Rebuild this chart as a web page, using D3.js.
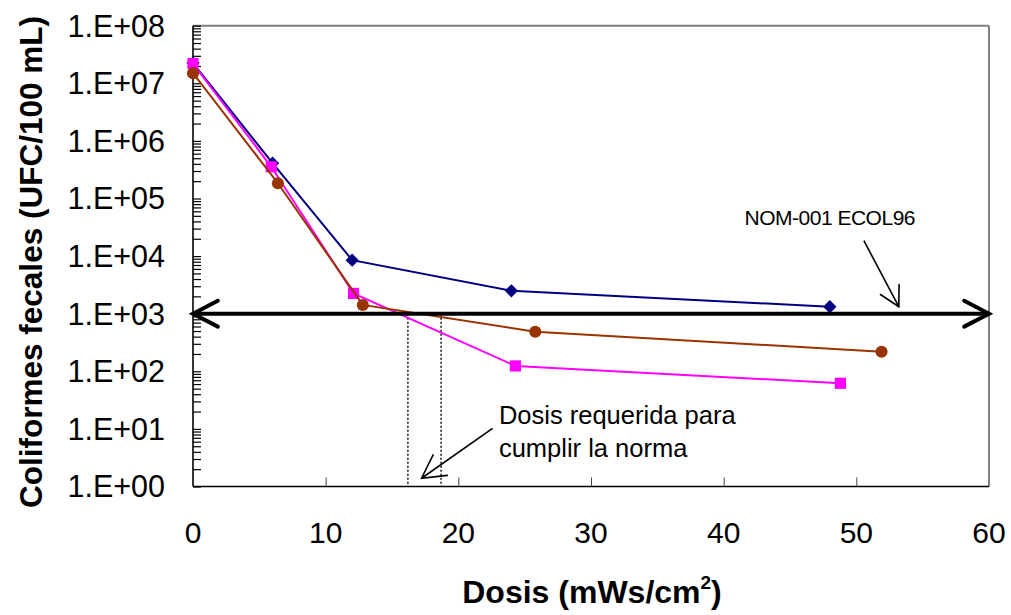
<!DOCTYPE html>
<html>
<head>
<meta charset="utf-8">
<script src="https://cdn.jsdelivr.net/npm/d3@7"></script>
<style>
  html, body { margin: 0; padding: 0; background: #fff; }
  svg { display: block; font-family: "Liberation Sans", Arial, sans-serif; }
</style>
</head>
<body>
<svg id="chart" width="1011" height="615"></svg>
<script>
// Dose (mWs/cm2) and fecal coliform counts (UFC/100 mL) for three runs
const doseA = [0, 6, 12, 24, 48];
const countA = [2.25e7, 4.1e5, 8.5e3, 2.5e3, 1.32e3];

const doseB = [0, 5.9, 12.1, 24.3, 48.8];
const countB = [2.2e7, 3.55e5, 2.25e3, 124, 62];

const doseC = [0, 6.4, 12.8, 25.8, 51.9];
const countC = [1.5e7, 1.84e5, 1.42e3, 486, 219];

// Axis ticks
const xTicks = [0, 10, 20, 30, 40, 50, 60];
const yTickValues = [1e0, 1e1, 1e2, 1e3, 1e4, 1e5, 1e6, 1e7, 1e8];
const yTickLabels = ["1.E+00", "1.E+01", "1.E+02", "1.E+03", "1.E+04", "1.E+05", "1.E+06", "1.E+07", "1.E+08"];

// Regulatory limit and the doses at which the runs reach it
const normLimit = 1000;
const requiredDoses = [16.2, 18.7];

const svg = d3.select("#chart");
const plot = { left: 193, top: 25.7, right: 989, bottom: 486.5 };

const x = d3.scaleLinear().domain([0, 60]).range([plot.left, plot.right]);
const y = d3.scaleLog().domain([1, 1e8]).range([plot.bottom, plot.top]);

// Frame: grey top/right, black axes
svg.append("line").attr("x1", plot.left).attr("x2", plot.right).attr("y1", plot.top).attr("y2", plot.top)
  .attr("stroke", "#808080").attr("stroke-width", 2);
svg.append("line").attr("x1", plot.right).attr("x2", plot.right).attr("y1", plot.top).attr("y2", plot.bottom)
  .attr("stroke", "#808080").attr("stroke-width", 2);

// Y axis (log, ticks inward)
const yMinor = [];
for (let e = 0; e < 8; e++) for (let m = 2; m <= 9; m++) yMinor.push(m * Math.pow(10, e));
const yAxis = d3.axisRight(y).tickValues(yTickValues.concat(yMinor)).tickSize(8).tickFormat("");
const gy = svg.append("g").attr("transform", `translate(${plot.left},0)`).call(yAxis);
gy.select(".domain").attr("stroke", "#000").attr("stroke-width", 1.6).attr("d", `M0,${plot.top}V${plot.bottom}`);
gy.selectAll(".tick line").attr("stroke", "#000").attr("stroke-width", 1.2);

svg.append("g").selectAll("text").data(yTickValues).join("text")
  .attr("x", 165).attr("y", d => y(d)).attr("dy", "0.36em")
  .attr("text-anchor", "end").attr("font-size", 30.5).attr("fill", "#000")
  .text((d, i) => yTickLabels[i]);

// X axis (ticks inward)
const xAxis = d3.axisTop(x).tickValues(xTicks.slice(1, -1)).tickSize(9).tickFormat("");
const gx = svg.append("g").attr("transform", `translate(0,${plot.bottom})`).call(xAxis);
gx.select(".domain").attr("stroke", "#000").attr("stroke-width", 1.6).attr("d", `M${plot.left},0H${plot.right}`);
gx.selectAll(".tick line").attr("stroke", "#444").attr("stroke-width", 1);

svg.append("g").selectAll("text").data(xTicks).join("text")
  .attr("x", d => x(d)).attr("y", 543)
  .attr("text-anchor", "middle").attr("font-size", 30).attr("fill", "#000")
  .text(d => d);

// Axis titles
svg.append("text")
  .attr("transform", `translate(42,262) rotate(-90)`)
  .attr("text-anchor", "middle").attr("font-size", 31.5).attr("font-weight", "bold")
  .text("Coliformes fecales (UFC/100 mL)");

const xt = svg.append("text")
  .attr("x", 592).attr("y", 603)
  .attr("text-anchor", "middle").attr("font-size", 32).attr("font-weight", "bold");
xt.append("tspan").text("Dosis (mWs/cm");
xt.append("tspan").attr("font-size", 19).attr("dy", -14).text("2");
xt.append("tspan").attr("dy", 14).text(")");

// Helper: open V arrowhead at (tx,ty) pointing away from (fx,fy)
function arrowHead(g, fx, fy, tx, ty, len, half, width) {
  const ang = Math.atan2(fy - ty, fx - tx);
  const p1 = [tx + len * Math.cos(ang - half), ty + len * Math.sin(ang - half)];
  const p2 = [tx + len * Math.cos(ang + half), ty + len * Math.sin(ang + half)];
  g.append("path")
    .attr("d", `M${p1[0]},${p1[1]}L${tx},${ty}L${p2[0]},${p2[1]}`)
    .attr("fill", "none").attr("stroke", "#000").attr("stroke-width", width)
    .attr("stroke-linecap", "round").attr("stroke-linejoin", "miter");
}

// Dotted lines: dose required to meet the limit
svg.append("g").selectAll("line").data(requiredDoses).join("line")
  .attr("x1", d => x(d)).attr("x2", d => x(d))
  .attr("y1", y(normLimit)).attr("y2", plot.bottom)
  .attr("stroke", "#000").attr("stroke-width", 1.4).attr("stroke-dasharray", "2,2");

// Data series (diamond = square turned 45 degrees)
const series = [
  { dose: doseA, count: countA, color: "#000080", shape: d3.symbolSquare, size: 88, rot: 45 },
  { dose: doseB, count: countB, color: "#FF00FF", shape: d3.symbolSquare, size: 125, rot: 0 },
  { dose: doseC, count: countC, color: "#993300", shape: d3.symbolCircle, size: 115, rot: 0 }
];
const line = d3.line().x(d => x(d[0])).y(d => y(d[1]));
series.forEach(s => {
  const pts = s.dose.map((d, i) => [d, s.count[i]]);
  const g = svg.append("g");
  g.append("path").attr("d", line(pts)).attr("fill", "none")
    .attr("stroke", s.color).attr("stroke-width", 2);
  g.selectAll("path.pt").data(pts).join("path").attr("class", "pt")
    .attr("transform", d => `translate(${x(d[0])},${y(d[1])}) rotate(${s.rot})`)
    .attr("d", d3.symbol().type(s.shape).size(s.size)())
    .attr("fill", s.color);
});

// Limit line with arrowheads at both ends
const ny = y(normLimit);
const ng = svg.append("g");
ng.append("line").attr("x1", x(0)).attr("x2", x(60)).attr("y1", ny).attr("y2", ny)
  .attr("stroke", "#000").attr("stroke-width", 4);
arrowHead(ng, x(30), ny, x(0), ny, 28, 0.48, 4);
arrowHead(ng, x(30), ny, x(60), ny, 28, 0.48, 4);

// Annotation: NOM-001 ECOL96
const ag = svg.append("g");
svg.append("text").attr("x", x(48)).attr("y", y(3.47e4))
  .attr("text-anchor", "middle").attr("font-size", 21).attr("letter-spacing", -0.5)
  .text("NOM-001 ECOL96");
const nA = [x(50.57), y(1.85e4)], nB = [x(53.2), y(1325)];
ag.append("line").attr("x1", nA[0]).attr("y1", nA[1]).attr("x2", nB[0]).attr("y2", nB[1])
  .attr("stroke", "#000").attr("stroke-width", 1.6);
arrowHead(ag, nA[0], nA[1], nB[0], nB[1], 22, 0.5, 1.6);

// Annotation: required dose
const dt = svg.append("text").attr("x", x(23.06)).attr("y", y(12.2)).attr("font-size", 25.5);
dt.append("tspan").text("Dosis requerida para");
dt.append("tspan").attr("x", x(23.06)).attr("dy", 33).text("cumplir la norma");
const dA = [x(22.58), y(10.2)], dB = [x(17.23), y(1.39)];
ag.append("line").attr("x1", dA[0]).attr("y1", dA[1]).attr("x2", dB[0]).attr("y2", dB[1])
  .attr("stroke", "#000").attr("stroke-width", 1.6);
arrowHead(ag, dA[0], dA[1], dB[0], dB[1], 26, 0.5, 1.6);
</script>
</body>
</html>
